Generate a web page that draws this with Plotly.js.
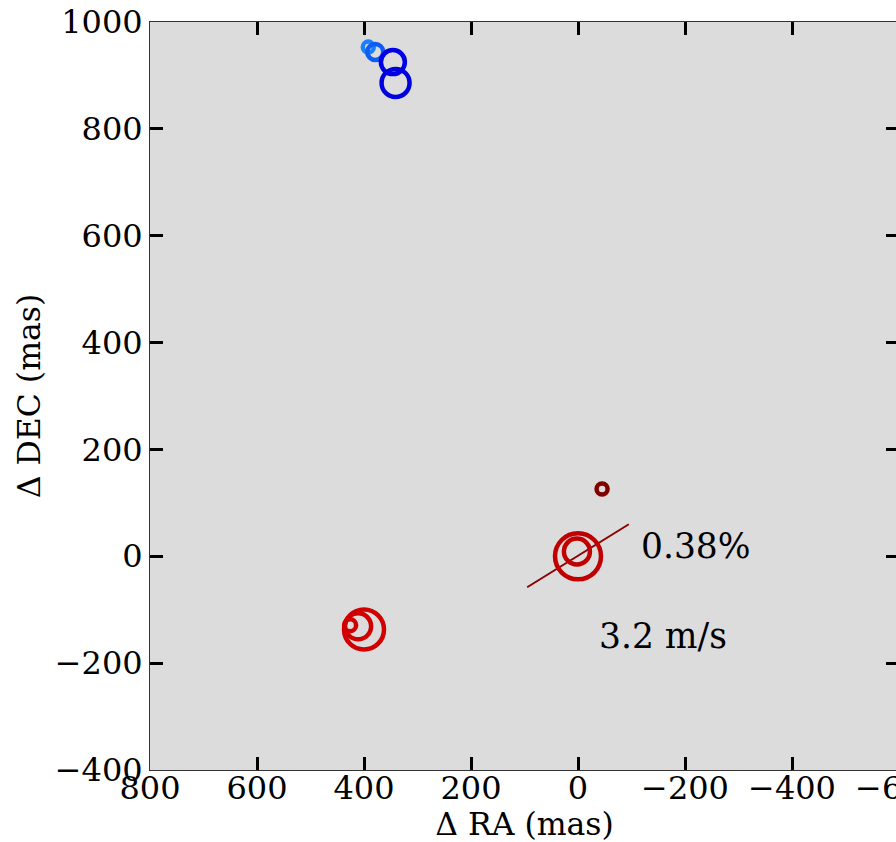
<!DOCTYPE html>
<html>
<head>
<meta charset="utf-8">
<script src="https://cdn.plot.ly/plotly-3.0.1.min.js"></script>
<style>
html,body{margin:0;padding:0;overflow:hidden;background:#fff;}
#chart{width:900px;height:842px;}
</style>
</head>
<body>
<div id="chart"></div>
<script>
// Data (mas offsets)
const blueRA  = [392, 379, 346, 341];
const blueDEC = [953, 944, 925, 886];
const redRA   = [426, 411, 400];
const redDEC  = [-129, -131, -137];
const centerRA  = [0, 2];
const centerDEC = [0, 9];
const darkRA  = [-45];
const darkDEC = [126];
const lineRA  = [95, -95];
const lineDEC = [-58, 60];
const labelPct = "0.38%";
const labelVel = "3.2 m/s";
const xTicks = [800, 600, 400, 200, 0, -200, -400, -600];
const yTicks = [-400, -200, 0, 200, 400, 600, 800, 1000];

// Styles
const blueColors = ['#1a80ff', '#0f5cf5', '#0000e6', '#0000dc'];
const blueSizes = [11, 16, 24, 28];
const redSizes = [12, 26, 40];
const centerSizes = [46, 26];
const ringW = 4.5;

const traces = [
  {x: lineRA, y: lineDEC, mode: 'lines', line: {color: '#8b0000', width: 2}, hoverinfo: 'skip'},
  {x: blueRA, y: blueDEC, mode: 'markers',
   marker: {symbol: 'circle-open', size: blueSizes, opacity: 1, color: blueColors, line: {width: ringW, color: blueColors}}},
  {x: redRA, y: redDEC, mode: 'markers',
   marker: {symbol: 'circle-open', size: redSizes, opacity: 1, color: '#d00000', line: {width: ringW, color: '#d00000'}}},
  {x: centerRA, y: centerDEC, mode: 'markers',
   marker: {symbol: 'circle-open', size: centerSizes, opacity: 1, color: '#c00000', line: {width: ringW, color: '#c00000'}}},
  {x: darkRA, y: darkDEC, mode: 'markers',
   marker: {symbol: 'circle-open', size: 11, opacity: 1, color: '#800000', line: {width: ringW, color: '#800000'}}}
];

const titleFont = {family: 'DejaVu Serif', size: 31.5, color: '#000'};
const axisCommon = {
  showgrid: false, zeroline: false, showline: true, linecolor: '#333', linewidth: 1,
  mirror: 'ticks', ticks: 'inside', ticklen: 13, tickwidth: 3, tickcolor: '#000',
  ticklabeloverflow: 'allow',
  tickfont: {family: 'DejaVu Serif', size: 32, color: '#000'}
};

const layout = {
  width: 900, height: 842,
  margin: {l: 150, r: 1, t: 22, b: 72},
  paper_bgcolor: '#fff', plot_bgcolor: '#dcdcdc',
  showlegend: false,
  xaxis: Object.assign({}, axisCommon, {
    range: [800, -600], tickvals: xTicks, ticktext: xTicks.map(v => v < 0 ? '\u2212' + (-v) : String(v)),
    ticklabelstandoff: -10,
    title: {text: '\u0394 RA (mas)', standoff: 4, font: titleFont}
  }),
  yaxis: Object.assign({}, axisCommon, {
    range: [-400, 1000], tickvals: yTicks, ticktext: yTicks.map(v => v < 0 ? '\u2212' + (-v) : String(v)),
    title: {text: '\u0394 DEC (mas)', standoff: 4, font: titleFont}
  }),
  annotations: [
    {x: -114, y: 19, xref: 'x', yref: 'y', text: labelPct, showarrow: false, xanchor: 'left', yanchor: 'middle',
     font: {family: 'DejaVu Serif', size: 34.5, color: '#000'}},
    {x: -35.5, y: -150, xref: 'x', yref: 'y', text: labelVel, showarrow: false, xanchor: 'left', yanchor: 'middle',
     font: {family: 'DejaVu Serif', size: 34.5, color: '#000'}}
  ]
};

Plotly.newPlot('chart', traces, layout, {displayModeBar: false, staticPlot: true});
</script>
</body>
</html>
